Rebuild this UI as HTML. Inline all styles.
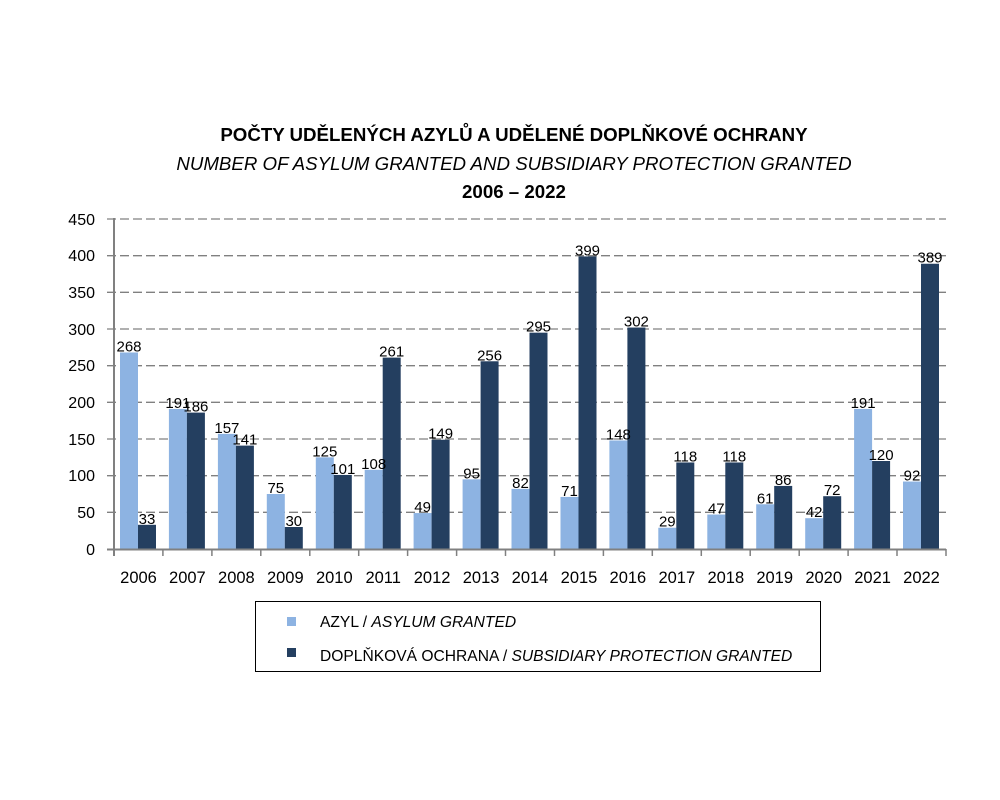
<!DOCTYPE html>
<html><head><meta charset="utf-8"><style>body{margin:0;background:#fff}svg{display:block;font-family:"Liberation Sans",Arial,sans-serif}</style></head><body>
<svg width="1000" height="800" xmlns="http://www.w3.org/2000/svg">
<rect width="1000" height="800" fill="#fff"/>
<g font-size="18.7" text-anchor="middle" fill="#000">
<text x="514" y="141" font-weight="bold">POČTY UDĚLENÝCH AZYLŮ A UDĚLENÉ DOPLŇKOVÉ OCHRANY</text>
<text x="514" y="170" font-style="italic">NUMBER OF ASYLUM GRANTED AND SUBSIDIARY PROTECTION GRANTED</text>
<text x="514" y="198" font-weight="bold">2006 – 2022</text>
</g>
<g stroke="#808080" stroke-width="1.3" stroke-dasharray="9,4">
<line x1="107" x2="946" y1="219" y2="219"/><line x1="107" x2="946" y1="255.7" y2="255.7"/><line x1="107" x2="946" y1="292.3" y2="292.3"/><line x1="107" x2="946" y1="329" y2="329"/><line x1="107" x2="946" y1="365.7" y2="365.7"/><line x1="107" x2="946" y1="402.3" y2="402.3"/><line x1="107" x2="946" y1="439" y2="439"/><line x1="107" x2="946" y1="475.7" y2="475.7"/><line x1="107" x2="946" y1="512.3" y2="512.3"/>
</g>
<g font-size="16" text-anchor="end" fill="#000">
<text x="95" y="225">450</text><text x="95" y="261">400</text><text x="95" y="298">350</text><text x="95" y="335">300</text><text x="95" y="371">250</text><text x="95" y="408">200</text><text x="95" y="445">150</text><text x="95" y="481">100</text><text x="95" y="518">50</text><text x="95" y="555">0</text>
</g>
<g transform="translate(0,549) scale(1,-0.7333)">
<g fill="#8DB3E2">
<rect x="120" width="18" height="268"/><rect x="168.9" width="18" height="191"/><rect x="217.9" width="18" height="157"/><rect x="266.8" width="18" height="75"/><rect x="315.8" width="18" height="125"/><rect x="364.7" width="18" height="108"/><rect x="413.6" width="18" height="49"/><rect x="462.6" width="18" height="95"/><rect x="511.5" width="18" height="82"/><rect x="560.5" width="18" height="71"/><rect x="609.4" width="18" height="148"/><rect x="658.3" width="18" height="29"/><rect x="707.3" width="18" height="47"/><rect x="756.2" width="18" height="61"/><rect x="805.2" width="18" height="42"/><rect x="854.1" width="18" height="191"/><rect x="903" width="18" height="92"/>
</g>
<g fill="#243F60">
<rect x="138" width="18" height="33"/><rect x="186.9" width="18" height="186"/><rect x="235.9" width="18" height="141"/><rect x="284.8" width="18" height="30"/><rect x="333.8" width="18" height="101"/><rect x="382.7" width="18" height="261"/><rect x="431.6" width="18" height="149"/><rect x="480.6" width="18" height="256"/><rect x="529.5" width="18" height="295"/><rect x="578.5" width="18" height="399"/><rect x="627.4" width="18" height="302"/><rect x="676.3" width="18" height="118"/><rect x="725.3" width="18" height="118"/><rect x="774.2" width="18" height="86"/><rect x="823.2" width="18" height="72"/><rect x="872.1" width="18" height="120"/><rect x="921" width="18" height="389"/>
</g>
</g>
<g stroke="#808080" stroke-width="2">
<line x1="114" x2="114" y1="218" y2="556"/>
<line x1="107" x2="946" y1="549.5" y2="549.5"/>
</g>
<g stroke="#808080" stroke-width="1.5">
<line x1="162.9" x2="162.9" y1="549" y2="556"/><line x1="211.9" x2="211.9" y1="549" y2="556"/><line x1="260.8" x2="260.8" y1="549" y2="556"/><line x1="309.8" x2="309.8" y1="549" y2="556"/><line x1="358.7" x2="358.7" y1="549" y2="556"/><line x1="407.6" x2="407.6" y1="549" y2="556"/><line x1="456.6" x2="456.6" y1="549" y2="556"/><line x1="505.5" x2="505.5" y1="549" y2="556"/><line x1="554.5" x2="554.5" y1="549" y2="556"/><line x1="603.4" x2="603.4" y1="549" y2="556"/><line x1="652.3" x2="652.3" y1="549" y2="556"/><line x1="701.3" x2="701.3" y1="549" y2="556"/><line x1="750.2" x2="750.2" y1="549" y2="556"/><line x1="799.2" x2="799.2" y1="549" y2="556"/><line x1="848.1" x2="848.1" y1="549" y2="556"/><line x1="897" x2="897" y1="549" y2="556"/><line x1="946" x2="946" y1="549" y2="556"/>
</g>
<g font-size="16.5" text-anchor="middle" fill="#000">
<text x="138.5" y="583">2006</text><text x="187.4" y="583">2007</text><text x="236.4" y="583">2008</text><text x="285.3" y="583">2009</text><text x="334.3" y="583">2010</text><text x="383.2" y="583">2011</text><text x="432.1" y="583">2012</text><text x="481.1" y="583">2013</text><text x="530" y="583">2014</text><text x="579" y="583">2015</text><text x="627.9" y="583">2016</text><text x="676.8" y="583">2017</text><text x="725.8" y="583">2018</text><text x="774.7" y="583">2019</text><text x="823.7" y="583">2020</text><text x="872.6" y="583">2021</text><text x="921.5" y="583">2022</text>
</g>
<g font-size="15" text-anchor="middle" fill="#000" transform="translate(0,2)">
<text x="129" y="349.5">268</text><text x="147" y="521.8">33</text>
<text x="177.9" y="405.9">191</text><text x="195.9" y="409.6">186</text>
<text x="226.9" y="430.9">157</text><text x="244.9" y="442.6">141</text>
<text x="275.8" y="491">75</text><text x="293.8" y="524">30</text>
<text x="324.8" y="454.3">125</text><text x="342.8" y="471.9">101</text>
<text x="373.7" y="466.8">108</text><text x="391.7" y="354.6">261</text>
<text x="422.6" y="510.1">49</text><text x="440.6" y="436.7">149</text>
<text x="471.6" y="476.3">95</text><text x="489.6" y="358.3">256</text>
<text x="520.5" y="485.9">82</text><text x="538.5" y="329.7">295</text>
<text x="569.5" y="493.9">71</text><text x="587.5" y="253.4">399</text>
<text x="618.4" y="437.5">148</text><text x="636.4" y="324.5">302</text>
<text x="667.3" y="524.7">29</text><text x="685.3" y="459.5">118</text>
<text x="716.3" y="511.5">47</text><text x="734.3" y="459.5">118</text>
<text x="765.2" y="501.3">61</text><text x="783.2" y="482.9">86</text>
<text x="814.2" y="515.2">42</text><text x="832.2" y="493.2">72</text>
<text x="863.1" y="405.9">191</text><text x="881.1" y="458">120</text>
<text x="912" y="478.5">92</text><text x="930" y="260.7">389</text>
</g>
<rect x="255.5" y="601.5" width="565" height="70" fill="none" stroke="#000" stroke-width="1"/>
<rect x="287" y="617" width="9" height="9" fill="#8DB3E2"/>
<rect x="287" y="648" width="9" height="9" fill="#243F60"/>
<g font-size="15.6" fill="#000">
<text x="320" y="627">AZYL / <tspan font-style="italic">ASYLUM GRANTED</tspan></text>
<text x="320" y="661">DOPLŇKOVÁ OCHRANA / <tspan font-style="italic">SUBSIDIARY PROTECTION GRANTED</tspan></text>
</g>
</svg>
</body></html>
